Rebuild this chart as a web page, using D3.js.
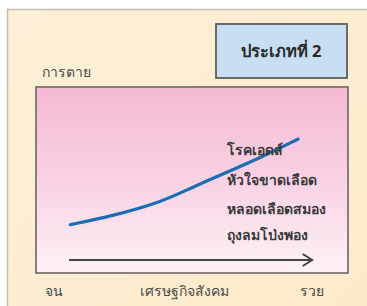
<!DOCTYPE html>
<html>
<head>
<meta charset="utf-8">
<script src="https://cdn.jsdelivr.net/npm/d3@7"></script>
<style>
  html, body { margin: 0; padding: 0; background: #ffffff; }
  svg { display: block; }
  text { font-family: "Noto Sans", "DejaVu Sans", sans-serif; }
</style>
</head>
<body>
<div id="chart"></div>
<script>
// ---- data ----
const title = "ประเภทที่ 2";
const yAxisLabel = "การตาย";
const xTickLabels = ["จน", "เศรษฐกิจสังคม", "รวย"];
const xTickPositions = [5.8, 47.7, 88.5];     // socio-economic position (0 = poor, 100 = rich)
const wealth = [11, 24, 40, 50, 61, 72, 84];  // socio-economic status
const mortality = [26, 30.5, 38, 46, 54, 62, 72]; // death rate (relative)
const diseases = ["โรคเอดส์", "หัวใจขาดเลือด", "หลอดเลือดสมอง", "ถุงลมโป่งพอง"];
const diseaseLevels = [63.5, 47.5, 31.5, 17.5]; // vertical placement of each label (relative)

// ---- layout ----
const W = 367, H = 306;
const plot = { x0: 36, x1: 348, y0: 87, y1: 273 };

const svg = d3.select("#chart").append("svg").attr("width", W).attr("height", H);

const defs = svg.append("defs");
const grad = defs.append("linearGradient").attr("id", "pinkGrad")
  .attr("x1", 0).attr("y1", 0).attr("x2", 0).attr("y2", 1);
grad.append("stop").attr("offset", "0%").attr("stop-color", "#f5b9d4");
grad.append("stop").attr("offset", "55%").attr("stop-color", "#f9d5e5");
grad.append("stop").attr("offset", "100%").attr("stop-color", "#fdf2f7");

const bgGrad = defs.append("linearGradient").attr("id", "bgGrad")
  .attr("x1", 0).attr("y1", 0).attr("x2", 1).attr("y2", 1);
bgGrad.append("stop").attr("offset", "0%").attr("stop-color", "#fdf0d6");
bgGrad.append("stop").attr("offset", "100%").attr("stop-color", "#fcebcb");

// outer cream panel
svg.append("rect").attr("x", 7.5).attr("y", 9.5).attr("width", W).attr("height", H)
  .attr("fill", "url(#bgGrad)").attr("stroke", "#c4bdb2").attr("stroke-width", 1.5);

// scales
const x = d3.scaleLinear().domain([0, 100]).range([plot.x0, plot.x1]);
const y = d3.scaleLinear().domain([0, 100]).range([plot.y1, plot.y0]);

// plot box
svg.append("rect").attr("x", plot.x0).attr("y", plot.y0)
  .attr("width", plot.x1 - plot.x0).attr("height", plot.y1 - plot.y0)
  .attr("fill", "url(#pinkGrad)").attr("stroke", "#7a7470").attr("stroke-width", 1.8);

// title box
svg.append("rect").attr("x", 216).attr("y", 24).attr("width", 131).attr("height", 54)
  .attr("fill", "#c8dff3").attr("stroke", "#5f5c5a").attr("stroke-width", 1.8);
svg.append("text").attr("x", 281).attr("y", 57).attr("text-anchor", "middle")
  .attr("font-size", 16.5).attr("font-weight", "bold").attr("fill", "#2a2a2a").text(title);

// y label
svg.append("text").attr("x", 42).attr("y", 77).attr("font-size", 14)
  .attr("fill", "#4a4a4a").text(yAxisLabel);

// curve
const pts = wealth.map((w, i) => [w, mortality[i]]);
const line = d3.line().x(d => x(d[0])).y(d => y(d[1])).curve(d3.curveBasis);
svg.append("path").datum(pts).attr("d", line).attr("fill", "none")
  .attr("stroke", "#1c6db3").attr("stroke-width", 3.2).attr("stroke-linecap", "round");

// disease labels
svg.append("g").selectAll("text").data(diseases).join("text")
  .attr("x", x(61.3)).attr("y", (d, i) => y(diseaseLevels[i]))
  .attr("font-size", 14).attr("fill", "#3a3a3a").attr("font-weight", "bold")
  .text(d => d);

// arrow (socio-economic axis)
const ay = y(7);
svg.append("line").attr("x1", x(10.6)).attr("x2", x(88.5)).attr("y1", ay).attr("y2", ay)
  .attr("stroke", "#444").attr("stroke-width", 2);
svg.append("path")
  .attr("d", `M${x(85.5)},${ay - 6} L${x(88.5)},${ay} L${x(85.5)},${ay + 6}`)
  .attr("fill", "none").attr("stroke", "#444").attr("stroke-width", 2);

// x labels
svg.append("g").selectAll("text").data(xTickLabels).join("text")
  .attr("x", (d, i) => x(xTickPositions[i])).attr("y", 296)
  .attr("text-anchor", "middle").attr("font-size", 14).attr("fill", "#4a4a4a")
  .text(d => d);
</script>
</body>
</html>
